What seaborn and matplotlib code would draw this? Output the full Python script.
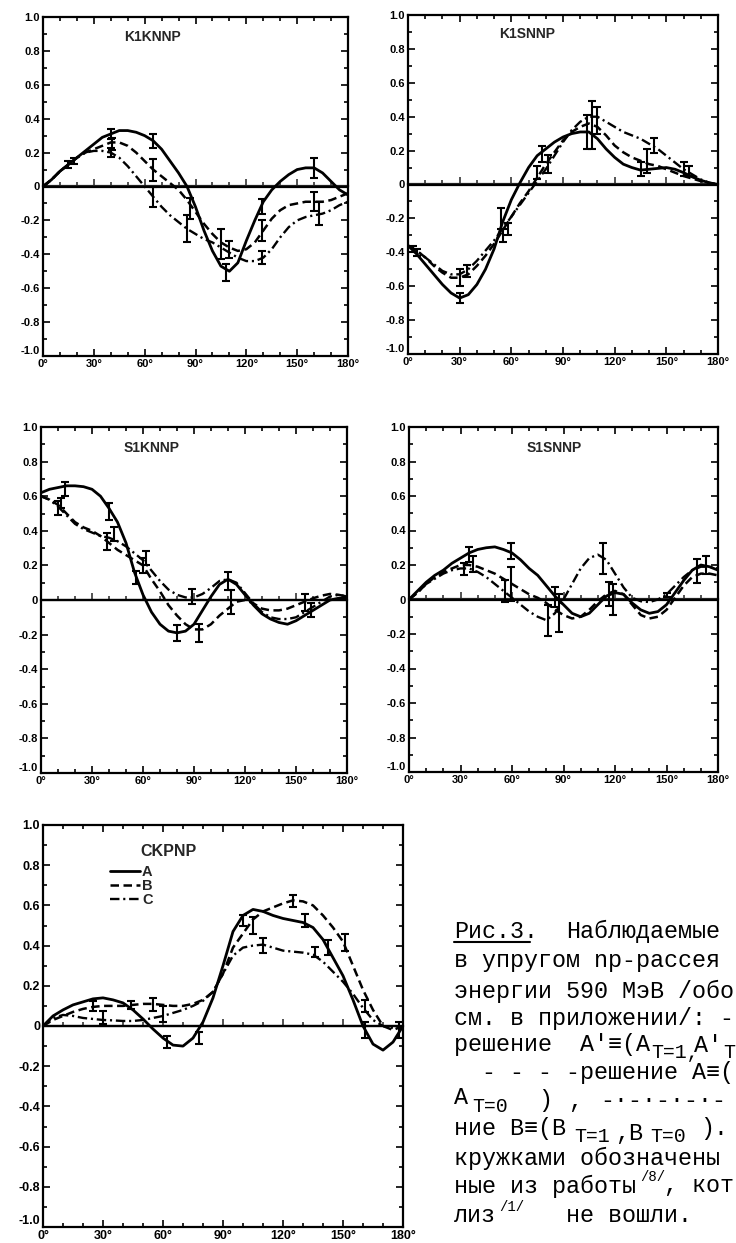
import numpy as np
import matplotlib
matplotlib.use("Agg")
import matplotlib.pyplot as plt
import seaborn as sns
from matplotlib.lines import Line2D
from matplotlib.ticker import MultipleLocator, FuncFormatter

# ---------------- data ----------------
ANGLES = [0, 5, 10, 15, 20, 25, 30, 35, 40, 45, 50, 55, 60, 65, 70, 75, 80, 85, 90,
          95, 100, 105, 110, 115, 120, 125, 130, 135, 140, 145, 150, 155, 160, 165, 170, 175, 180]

# K1KNNP
K1KNNP_A = [0, 0.04, 0.09, 0.13, 0.17, 0.21, 0.25, 0.29, 0.31, 0.33, 0.33, 0.32, 0.30, 0.27, 0.22, 0.15, 0.08, 0.0, -0.12,
            -0.26, -0.38, -0.47, -0.50, -0.45, -0.32, -0.20, -0.09, -0.02, 0.03, 0.07, 0.10, 0.11, 0.11, 0.08, 0.03, -0.02, -0.05]
K1KNNP_B = [0, 0.04, 0.09, 0.13, 0.17, 0.20, 0.22, 0.24, 0.26, 0.26, 0.24, 0.20, 0.15, 0.10, 0.06, 0.02, -0.02, -0.08, -0.15,
            -0.22, -0.28, -0.33, -0.36, -0.38, -0.37, -0.33, -0.26, -0.19, -0.14, -0.11, -0.10, -0.09, -0.09, -0.09, -0.08, -0.06, -0.04]
K1KNNP_C = [0, 0.04, 0.09, 0.13, 0.17, 0.20, 0.21, 0.21, 0.20, 0.17, 0.12, 0.06, 0.0, -0.06, -0.12, -0.17, -0.21, -0.25, -0.28,
            -0.31, -0.33, -0.36, -0.39, -0.42, -0.44, -0.44, -0.42, -0.37, -0.30, -0.24, -0.20, -0.18, -0.17, -0.16, -0.14, -0.11, -0.09]
K1KNNP_PX = [15, 18, 40, 41, 40, 65, 65, 65, 85, 87, 105, 108, 110, 129, 129, 129, 160, 160, 163]
K1KNNP_PY = [0.13, 0.15, 0.31, 0.25, 0.20, 0.27, 0.10, -0.06, -0.25, -0.13, -0.34, -0.51, -0.37, -0.12, -0.26, -0.42, 0.11, -0.09, -0.16]
K1KNNP_PE = [0.02, 0.02, 0.03, 0.035, 0.025, 0.04, 0.065, 0.06, 0.08, 0.06, 0.09, 0.05, 0.05, 0.045, 0.06, 0.04, 0.06, 0.055, 0.07]

# K1SNNP
K1SNNP_A = [-0.36, -0.41, -0.47, -0.53, -0.59, -0.64, -0.67, -0.65, -0.59, -0.50, -0.38, -0.22, -0.09, 0.01, 0.10, 0.17, 0.21, 0.25, 0.28,
            0.30, 0.31, 0.31, 0.27, 0.21, 0.16, 0.12, 0.10, 0.085, 0.09, 0.095, 0.10, 0.09, 0.07, 0.045, 0.025, 0.01, 0.0]
K1SNNP_B = [-0.36, -0.39, -0.43, -0.48, -0.52, -0.55, -0.55, -0.53, -0.48, -0.42, -0.35, -0.27, -0.19, -0.11, -0.04, 0.04, 0.12, 0.19, 0.26,
            0.31, 0.34, 0.36, 0.34, 0.29, 0.23, 0.19, 0.16, 0.14, 0.12, 0.11, 0.09, 0.07, 0.05, 0.035, 0.02, 0.007, 0.0]
K1SNNP_C = [-0.36, -0.39, -0.43, -0.47, -0.51, -0.53, -0.53, -0.50, -0.45, -0.39, -0.33, -0.26, -0.19, -0.12, -0.05, 0.02, 0.09, 0.17, 0.25,
            0.32, 0.37, 0.40, 0.40, 0.37, 0.34, 0.31, 0.29, 0.27, 0.24, 0.21, 0.17, 0.13, 0.09, 0.06, 0.03, 0.01, 0.0]
K1SNNP_PX = [3, 5, 30, 30, 34, 54, 55, 58, 75, 78, 81, 104, 107, 110, 135, 139, 143, 160, 163]
K1SNNP_PY = [-0.38, -0.40, -0.55, -0.67, -0.51, -0.20, -0.30, -0.26, 0.07, 0.18, 0.12, 0.31, 0.35, 0.38, 0.09, 0.14, 0.23, 0.09, 0.08]
K1SNNP_PE = [0.02, 0.02, 0.05, 0.03, 0.035, 0.06, 0.04, 0.035, 0.04, 0.045, 0.055, 0.10, 0.14, 0.08, 0.04, 0.07, 0.045, 0.04, 0.03]

# S1KNNP
S1KNNP_A = [0.62, 0.64, 0.65, 0.66, 0.66, 0.655, 0.64, 0.60, 0.53, 0.45, 0.33, 0.16, 0.03, -0.07, -0.14, -0.18, -0.19, -0.18, -0.14,
            -0.06, 0.02, 0.09, 0.12, 0.09, 0.03, -0.03, -0.08, -0.11, -0.13, -0.14, -0.12, -0.09, -0.06, -0.03, 0.0, 0.01, 0.01]
S1KNNP_B = [0.60, 0.58, 0.55, 0.50, 0.45, 0.42, 0.40, 0.37, 0.33, 0.29, 0.26, 0.23, 0.20, 0.12, 0.05, -0.03, -0.09, -0.14, -0.17,
            -0.17, -0.14, -0.09, -0.05, -0.01, 0.0, -0.02, -0.05, -0.06, -0.06, -0.05, -0.03, -0.01, 0.01, 0.025, 0.035, 0.03, 0.02]
S1KNNP_C = [0.60, 0.58, 0.54, 0.49, 0.44, 0.41, 0.39, 0.37, 0.36, 0.34, 0.31, 0.27, 0.23, 0.17, 0.11, 0.06, 0.03, 0.015, 0.015,
            0.035, 0.07, 0.11, 0.12, 0.10, 0.04, -0.02, -0.07, -0.10, -0.11, -0.11, -0.10, -0.07, -0.04, -0.01, 0.02, 0.03, 0.02]
S1KNNP_PX = [10, 12, 14, 39, 40, 43, 56, 60, 62, 80, 89, 93, 110, 112, 155, 159]
S1KNNP_PY = [0.53, 0.56, 0.64, 0.34, 0.51, 0.38, 0.13, 0.20, 0.245, -0.19, 0.02, -0.19, 0.11, -0.01, -0.015, -0.06]
S1KNNP_PE = [0.04, 0.03, 0.04, 0.05, 0.05, 0.04, 0.04, 0.045, 0.04, 0.045, 0.045, 0.05, 0.05, 0.07, 0.05, 0.04]

# S1SNNP
S1SNNP_A = [0, 0.05, 0.10, 0.14, 0.17, 0.21, 0.24, 0.27, 0.29, 0.30, 0.305, 0.29, 0.27, 0.23, 0.18, 0.14, 0.08, 0.02, -0.03,
            -0.08, -0.10, -0.08, -0.03, 0.02, 0.04, 0.03, -0.02, -0.06, -0.08, -0.07, -0.03, 0.04, 0.11, 0.17, 0.20, 0.19, 0.17]
S1SNNP_B = [0, 0.04, 0.09, 0.13, 0.16, 0.18, 0.20, 0.20, 0.19, 0.17, 0.15, 0.12, 0.09, 0.06, 0.03, 0.01, -0.02, -0.06, -0.09,
            -0.11, -0.10, -0.06, -0.01, 0.03, 0.05, 0.03, -0.03, -0.09, -0.11, -0.10, -0.06, 0.01, 0.08, 0.13, 0.15, 0.15, 0.14]
S1SNNP_C = [0, 0.04, 0.09, 0.12, 0.15, 0.17, 0.18, 0.18, 0.16, 0.13, 0.09, 0.05, 0.01, -0.03, -0.07, -0.10, -0.12, -0.08, 0.0,
            0.09, 0.18, 0.24, 0.26, 0.23, 0.15, 0.07, 0.01, -0.01, -0.015, 0.0, 0.03, 0.08, 0.13, 0.17, 0.19, 0.19, 0.18]
S1SNNP_PX = [32, 35, 37, 56, 59.5, 59.5, 81, 85, 87.5, 113, 116.5, 119, 150, 168, 173]
S1SNNP_PY = [0.175, 0.26, 0.205, 0.05, 0.28, 0.09, -0.12, 0.014, -0.08, 0.24, 0.03, 0.0, 0.027, 0.165, 0.20]
S1SNNP_PE = [0.035, 0.045, 0.045, 0.065, 0.045, 0.10, 0.09, 0.06, 0.11, 0.09, 0.07, 0.09, 0.012, 0.07, 0.05]

# CKPNP
CKPNP_A = [0, 0.05, 0.08, 0.105, 0.12, 0.135, 0.14, 0.13, 0.115, 0.08, 0.035, -0.015, -0.06, -0.095, -0.10, -0.06, 0.02, 0.14, 0.30,
           0.47, 0.55, 0.58, 0.57, 0.55, 0.535, 0.525, 0.515, 0.49, 0.43, 0.34, 0.25, 0.13, 0.0, -0.09, -0.12, -0.08, 0.0]
CKPNP_B = [0, 0.03, 0.05, 0.07, 0.085, 0.095, 0.10, 0.10, 0.10, 0.105, 0.11, 0.11, 0.105, 0.10, 0.10, 0.11, 0.13, 0.17, 0.26,
           0.39, 0.46, 0.53, 0.57, 0.59, 0.61, 0.625, 0.62, 0.60, 0.55, 0.49, 0.42, 0.30, 0.18, 0.08, 0.0, -0.02, 0.0]
CKPNP_C = [0, 0.04, 0.055, 0.05, 0.04, 0.035, 0.03, 0.028, 0.025, 0.025, 0.03, 0.04, 0.05, 0.065, 0.08, 0.10, 0.125, 0.17, 0.26,
           0.35, 0.39, 0.40, 0.405, 0.39, 0.375, 0.37, 0.365, 0.355, 0.32, 0.27, 0.22, 0.16, 0.09, 0.03, 0.0, -0.01, 0.0]
CKPNP_PX = [25, 30, 44, 55, 60, 62, 78, 100, 105, 110, 125, 131, 136, 142.5, 151, 161, 161, 178]
CKPNP_PY = [0.10, 0.042, 0.104, 0.108, 0.058, -0.08, -0.06, 0.525, 0.50, 0.40, 0.621, 0.525, 0.367, 0.39, 0.417, 0.10, -0.02, -0.02]
CKPNP_PE = [0.025, 0.033, 0.02, 0.033, 0.04, 0.03, 0.03, 0.025, 0.04, 0.037, 0.03, 0.033, 0.025, 0.037, 0.042, 0.03, 0.04, 0.04]

LEGEND_LABELS = ["A", "B", "C"]
X_TICKS = [0, 30, 60, 90, 120, 150, 180]
X_TICK_LABELS = ["0°", "30°", "60°", "90°", "120°", "150°", "180°"]
Y_TICKS = [-1.0, -0.8, -0.6, -0.4, -0.2, 0.0, 0.2, 0.4, 0.6, 0.8, 1.0]
Y_TICK_LABELS = ["-1.0", "-0.8", "-0.6", "-0.4", "-0.2", "0", "0.2", "0.4", "0.6", "0.8", "1.0"]

# ---------------- styling ----------------
sns.set_style("ticks")
plt.rcParams["font.family"] = ["Liberation Sans", "DejaVu Sans"]
plt.rcParams["axes.linewidth"] = 1.6

W, H = 736, 1243
fig = plt.figure(figsize=(W / 100, H / 100), dpi=100)
fig.patch.set_facecolor("white")


def rect(l, t, r, b):
    return [l / W, 1 - b / H, (r - l) / W, (b - t) / H]


STYLES = [
    dict(linestyle="-", lw=2.0),
    dict(linestyle=(0, (3.4, 1.8)), lw=1.8),
    dict(linestyle=(0, (4.0, 1.6, 0.9, 1.6)), lw=1.7),
]

panels = [
    dict(title="K1KNNP", box=(43, 17, 348, 356), tpos=(48, 0.88), curves=(K1KNNP_A, K1KNNP_B, K1KNNP_C),
         pts=(K1KNNP_PX, K1KNNP_PY, K1KNNP_PE), fs=8, tfs=10),
    dict(title="K1SNNP", box=(408, 15, 718, 354), tpos=(53, 0.89), curves=(K1SNNP_A, K1SNNP_B, K1SNNP_C),
         pts=(K1SNNP_PX, K1SNNP_PY, K1SNNP_PE), fs=8, tfs=10),
    dict(title="S1KNNP", box=(41, 427, 347, 773), tpos=(48.5, 0.88), curves=(S1KNNP_A, S1KNNP_B, S1KNNP_C),
         pts=(S1KNNP_PX, S1KNNP_PY, S1KNNP_PE), fs=8, tfs=10),
    dict(title="S1SNNP", box=(409, 427, 718, 772), tpos=(68.5, 0.88), curves=(S1SNNP_A, S1SNNP_B, S1SNNP_C),
         pts=(S1SNNP_PX, S1SNNP_PY, S1SNNP_PE), fs=8, tfs=10),
    dict(title="CKPNP", box=(43, 825, 403, 1227), tpos=(48.5, 0.87), curves=(CKPNP_A, CKPNP_B, CKPNP_C),
         pts=(CKPNP_PX, CKPNP_PY, CKPNP_PE), fs=9, tfs=11.5, legend=True),
]

for P in panels:
    ax = fig.add_axes(rect(*P["box"]))
    handles = []
    for vals, st in zip(P["curves"], STYLES):
        sns.lineplot(x=ANGLES, y=vals, ax=ax, color="black", **st)
        handles.append(ax.lines[-1])
    px, py, pe = P["pts"]
    ax.errorbar(px, py, yerr=pe, fmt="none", ecolor="black", elinewidth=1.5,
                capsize=2.6, capthick=1.5, zorder=4)
    ax.axhline(0, color="black", lw=1.6, zorder=3)

    ax.set_xlim(0, 180)
    ax.set_ylim(-1, 1)
    ax.set_xlabel("")
    ax.set_ylabel("")
    ax.set_xticks(X_TICKS)
    ax.set_xticklabels(X_TICK_LABELS, fontweight="bold")
    ax.set_yticks(Y_TICKS)
    ax.set_yticklabels(Y_TICK_LABELS, fontweight="bold")
    ax.xaxis.set_minor_locator(MultipleLocator(10))
    ax.yaxis.set_minor_locator(MultipleLocator(0.1))
    ax.tick_params(which="both", direction="in", top=True, right=True, width=1.2, colors="black")
    ax.tick_params(which="major", length=5, pad=2, labelsize=P["fs"])
    ax.tick_params(which="minor", length=3)
    # bottom y label sits just above the corner so it does not collide with 0°
    ax.get_yticklabels()[0].set_verticalalignment("bottom")
    for s in ax.spines.values():
        s.set_visible(True)
        s.set_linewidth(1.6)
        s.set_color("black")

    # ticks along the zero line
    sec = ax.secondary_xaxis(0.5)
    sec.xaxis.set_major_locator(MultipleLocator(30))
    sec.xaxis.set_minor_locator(MultipleLocator(10))
    sec.tick_params(which="both", direction="out", labeltop=False, labelbottom=False, width=1.1)
    sec.tick_params(which="major", length=5)
    sec.tick_params(which="minor", length=3)
    for s in sec.spines.values():
        s.set_linewidth(1.6)

    ax.text(P["tpos"][0], P["tpos"][1], P["title"], fontsize=P["tfs"], fontweight="bold",
            ha="left", va="center")

    if P.get("legend"):
        ax.legend(handles, LEGEND_LABELS, loc="upper left", bbox_to_anchor=(0.186, 0.9),
                  frameon=False, handlelength=2.05, handletextpad=0.15, labelspacing=0.0,
                  borderpad=0, borderaxespad=0, prop={"weight": "bold", "size": 10.5})

# ---------------- caption (typewriter text) ----------------
MONO = ["Liberation Mono", "DejaVu Sans Mono"]
FS = 16.8
SUB = FS * 0.85
SUP = FS * 0.6
X0 = 454


def put(x, y, s, fs=FS):
    fig.text(x / W, 1 - y / H, s, fontsize=fs, family=MONO, ha="left", va="center", color="black")


put(X0, 931, "Рис.3.")
put(566, 931, "Наблюдаемые")
fig.add_artist(Line2D([X0 / W, 530 / W], [1 - 942 / H, 1 - 942 / H], color="black", lw=1.5))
put(X0, 961, "в упругом np-рассея")
put(X0, 991, "энергии 590 МэВ /обо")
put(X0, 1019, "см. в приложении/: -")
put(X0, 1045, "решение  A′≡(A")
put(651, 1053, "T=1,", SUB)
put(694, 1045, "A′")
put(723, 1053, "T", SUB)
put(X0, 1073, "  - - - -решение A≡(")
put(X0, 1097, "A")
put(472, 1106, "T=0", SUB)
put(538, 1100, ")")
put(568, 1102, ",")
put(600, 1100, "-·-·-·-·-")
put(X0, 1128, "ние B≡(B")
put(574, 1137, "T=1", SUB)
put(615, 1133, ",B")
put(650, 1137, "T=0", SUB)
put(700, 1128, ").")
put(X0, 1158, "кружками обозначены")
put(X0, 1186, "ные из работы")
put(640, 1177, "/8/", SUP)
put(664, 1186, ", кот")
put(X0, 1215, "лиз")
put(499, 1207, "/1/", SUP)
put(566, 1215, "не вошли.")

fig.savefig("out.png", dpi=100, facecolor="white")
